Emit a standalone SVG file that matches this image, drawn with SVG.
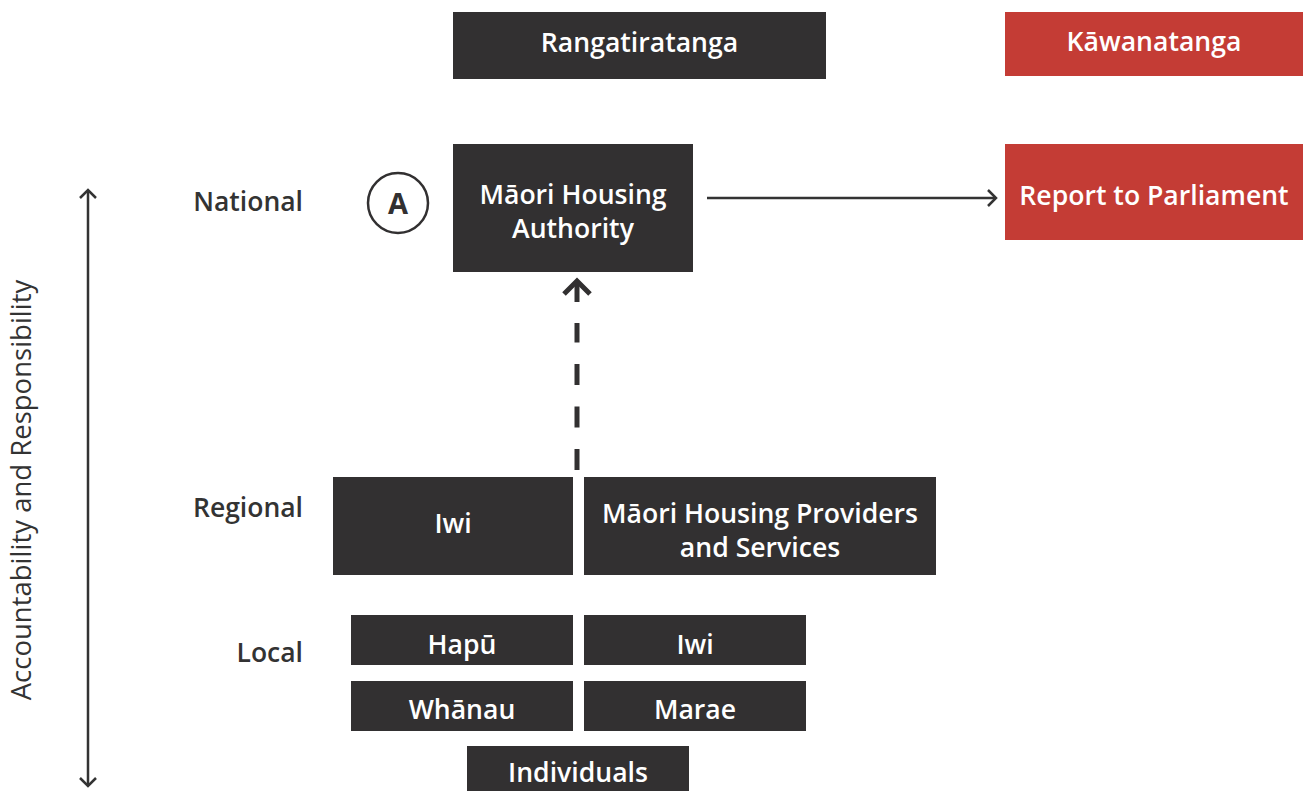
<svg xmlns="http://www.w3.org/2000/svg" width="1307" height="791" viewBox="0 0 1307 791">
<style>
.dark{fill:#323031}
.red{fill:#c43c35}
.t{font-family:"Open Sans","Noto Sans","Liberation Sans",sans-serif;font-weight:600;font-size:26.6px;fill:#ffffff;text-anchor:middle}
.lab{font-family:"Open Sans","Noto Sans","Liberation Sans",sans-serif;font-weight:600;font-size:26.5px;fill:#333333;text-anchor:end}
.line{fill:none;stroke:#333333;stroke-width:2.5}
</style>
<defs>
<marker id="chev" viewBox="0 0 20 20" refX="10" refY="10" markerWidth="20" markerHeight="20" markerUnits="userSpaceOnUse" orient="auto-start-reverse">
<polyline points="3,2 11,10 3,18" fill="none" stroke="#333333" stroke-width="2.5"/>
</marker>
</defs>
<rect width="1307" height="791" fill="#ffffff"/>

<g id="axis">
<text transform="translate(31,490) rotate(-90)" font-family="'Open Sans','Noto Sans','Liberation Sans',sans-serif" font-size="27.5" fill="#333333" text-anchor="middle">Accountability and Responsibility</text>
</g>

<g id="connectors">
<line class="line" x1="88" y1="191" x2="88" y2="785" marker-start="url(#chev)" marker-end="url(#chev)"/>
<line class="line" x1="707" y1="198" x2="995" y2="198" marker-end="url(#chev)"/>
<line x1="577" y1="470" x2="577" y2="323" stroke="#323031" stroke-width="5" stroke-dasharray="21 21.5"/>
<line x1="577" y1="302" x2="577" y2="281" stroke="#323031" stroke-width="5"/>
<polyline points="564,294 577,281 590,294" fill="none" stroke="#323031" stroke-width="5"/>
</g>

<g id="labels">
<text class="lab" x="303" y="211">National</text>
<text class="lab" x="303" y="517">Regional</text>
<text class="lab" x="303" y="662">Local</text>
</g>

<g id="badge-a">
<circle cx="398" cy="203" r="30" fill="#ffffff" stroke="#323031" stroke-width="2.5"/>
<text x="398" y="214" font-family="'Open Sans','Noto Sans','Liberation Sans',sans-serif" font-weight="700" font-size="29" fill="#323031" text-anchor="middle">A</text>
</g>

<g id="rangatiratanga">
<rect class="dark" x="453" y="12" width="373" height="67"/>
<text class="t" x="639.5" y="52">Rangatiratanga</text>
</g>
<g id="kawanatanga">
<rect class="red" x="1005" y="12" width="298" height="64"/>
<text class="t" x="1154" y="51">Kāwanatanga</text>
</g>
<g id="authority">
<rect class="dark" x="453" y="144" width="240" height="128"/>
<text class="t" x="573" y="204">Māori Housing</text>
<text class="t" x="573" y="238">Authority</text>
</g>
<g id="parliament">
<rect class="red" x="1005" y="144" width="298" height="96"/>
<text class="t" x="1154" y="205">Report to Parliament</text>
</g>
<g id="iwi-regional">
<rect class="dark" x="333" y="477" width="240" height="98"/>
<text class="t" x="453" y="533">Iwi</text>
</g>
<g id="providers">
<rect class="dark" x="584" y="477" width="352" height="98"/>
<text class="t" x="760" y="523">Māori Housing Providers</text>
<text class="t" x="760" y="557">and Services</text>
</g>
<g id="hapu">
<rect class="dark" x="351" y="615" width="222" height="50"/>
<text class="t" x="462" y="654">Hapū</text>
</g>
<g id="iwi-local">
<rect class="dark" x="584" y="615" width="222" height="50"/>
<text class="t" x="695" y="654">Iwi</text>
</g>
<g id="whanau">
<rect class="dark" x="351" y="681" width="222" height="50"/>
<text class="t" x="462" y="719">Whānau</text>
</g>
<g id="marae">
<rect class="dark" x="584" y="681" width="222" height="50"/>
<text class="t" x="695" y="719">Marae</text>
</g>
<g id="individuals">
<rect class="dark" x="467" y="746" width="222" height="50"/>
<text class="t" x="578" y="782">Individuals</text>
</g>
</svg>
